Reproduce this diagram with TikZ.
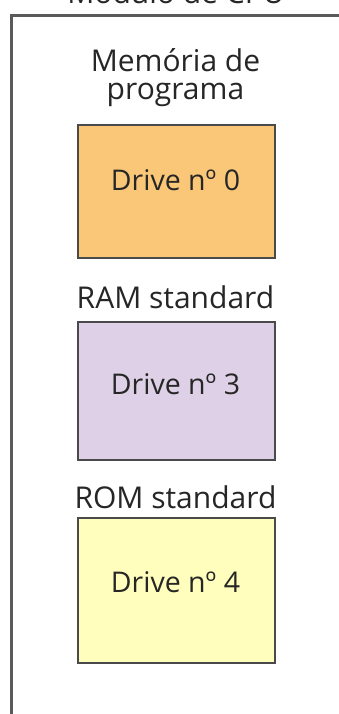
\documentclass[tikz,border=0pt]{standalone}
\usepackage{fontspec}
\setmainfont{Open Sans}
\usetikzlibrary{shadows}
\definecolor{framegray}{HTML}{5A5A5A}
\definecolor{boxline}{HTML}{4A4A4A}
\definecolor{orangefill}{HTML}{FAC778}
\definecolor{lavfill}{HTML}{DED0E6}
\definecolor{yelfill}{HTML}{FFFEBC}
\tikzset{
  membox/.style={draw=boxline, line width=1.6pt, minimum width=197pt, anchor=north west,
    inner sep=0pt, drop shadow={shadow xshift=0.8pt, shadow yshift=-0.8pt, opacity=0.35}},
  lbl/.style={anchor=base, inner sep=0pt, font=\fontsize{30}{28}\selectfont, text=black!85},
  dlbl/.style={anchor=base, inner sep=0pt, font=\fontsize{28.5}{28}\selectfont, text=black!85},
}
\begin{document}
\begin{tikzpicture}[x=1pt,y=-1pt]
\path[use as bounding box] (0,0) rectangle (339,714);
\clip (0,0) rectangle (339,714);
\fill[white] (0,0) rectangle (339,714);
\node[draw=framegray, line width=2.6pt, anchor=north west, minimum width=420pt, minimum height=800pt, inner sep=0pt] (frame) at (10,14.5) {};
\node[lbl] (title) at (176,4) {Módulo de CPU};
\node[lbl, align=center] (lprog) at (175.5,100) {Memória de\\programa};
\node[membox, fill=orangefill, minimum height=133pt] (b0) at (77,124) {};
\node[dlbl] (t0) at (175.5,190) {Drive nº 0};
\node[lbl] (lram) at (175.5,308) {RAM standard};
\node[membox, fill=lavfill, minimum height=138pt] (b3) at (77,321) {};
\node[dlbl] (t3) at (175.5,394) {Drive nº 3};
\node[lbl] (lrom) at (175.5,508) {ROM standard};
\node[membox, fill=yelfill, minimum height=145pt] (b4) at (77,517) {};
\node[dlbl] (t4) at (175.5,592) {Drive nº 4};
\end{tikzpicture}
\end{document}
